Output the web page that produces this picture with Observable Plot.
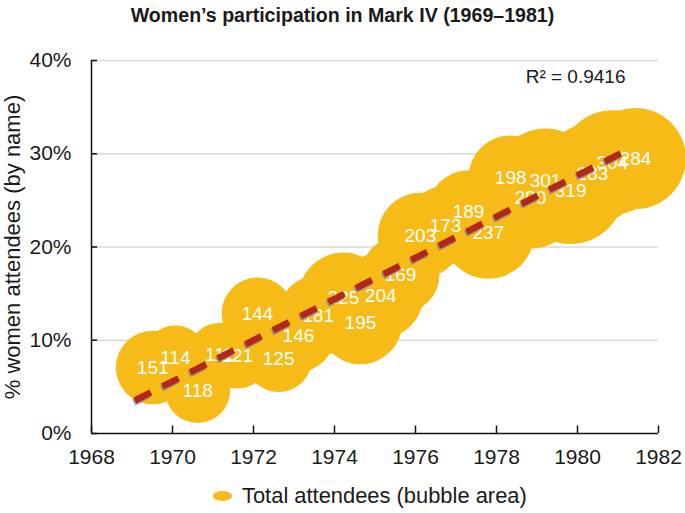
<!DOCTYPE html>
<html><head><meta charset="utf-8">
<script src="https://cdn.jsdelivr.net/npm/d3@7"></script>
<script src="https://cdn.jsdelivr.net/npm/@observablehq/plot@0.6"></script>
<style>
html,body{margin:0;padding:0;background:#fff;}
body{width:685px;height:513px;overflow:hidden;font-family:"Liberation Sans",Arial,sans-serif;color:#1a1a1a;}
#title{height:30px;line-height:31px;text-align:center;font-weight:bold;font-size:19.6px;}
#chart{height:443px;}
#legend{height:40px;position:relative;font-size:21.9px;}
#legend .sw{position:absolute;left:213px;top:18px;width:19px;height:10px;border-radius:50%;background:#F6BB17;}
#legend .lt{position:absolute;left:242px;top:11px;line-height:24px;white-space:nowrap;}
</style></head><body>
<div id="title">Women’s participation in Mark IV (1969–1981)</div>
<div id="chart"></div>
<div id="legend"><span class="sw"></span><span class="lt">Total attendees (bubble area)</span></div>
<script>
// Data
const years = [1969.51, 1970.07, 1970.62, 1971.16, 1971.60, 1972.10, 1972.62, 1973.11, 1973.60, 1974.22, 1974.64, 1975.14, 1975.63, 1976.12, 1976.74, 1977.31, 1977.80, 1978.35, 1978.84, 1979.21, 1979.83, 1980.37, 1980.86, 1981.43];
const pctWomen = [7.08, 8.15, 4.61, 8.47, 8.36, 12.87, 8.04, 10.51, 12.65, 14.58, 11.9, 14.8, 17.05, 21.23, 22.31, 23.81, 21.55, 27.45, 25.31, 27.13, 26.06, 27.88, 29.06, 29.49];
const attendees = [151, 114, 118, 111, 121, 144, 125, 146, 181, 225, 195, 204, 169, 203, 173, 189, 237, 198, 290, 301, 319, 283, 304, 284];
const trendYears = [1969.07, 1981.11];
const trendPct = [3.54, 30.13];
const xTicks = [1968, 1970, 1972, 1974, 1976, 1978, 1980, 1982];
const yTicks = [0, 10, 20, 30, 40];
const gridTicks = [10, 20, 30, 40];
const rSquaredLabel = "R² = 0.9416";
const yTitle = "% women attendees (by name)";

const rows = years.map((x, i) => ({x, y: pctWomen[i], n: attendees[i]}));
const trend = trendYears.map((x, i) => ({x, y: trendPct[i]}));

const bubble = "#F6BB17";
const chart = Plot.plot({
  width: 685,
  height: 443,
  marginLeft: 91,
  marginRight: 27,
  marginTop: 30,
  marginBottom: 40,
  style: {fontFamily: "'Liberation Sans', Arial, sans-serif", fontSize: "21px", color: "#1a1a1a", background: "white", overflow: "visible"},
  x: {domain: [1968, 1982]},
  y: {domain: [0, 40]},
  r: {type: "sqrt", domain: [0, 319], range: [0, 53.5]},
  marks: [
    Plot.gridY(gridTicks, {stroke: "#d9d9d9", strokeOpacity: 1, strokeWidth: 1.5}),
    Plot.ruleX([1968], {stroke: "#111", strokeWidth: 1.5}),
    Plot.ruleY([0], {stroke: "#111", strokeWidth: 1.5}),
    Plot.ruleY(yTicks, {y: d => d, x1: 1968, x2: 1968.15, stroke: "#111", strokeWidth: 1.5}),
    Plot.ruleX(xTicks, {x: d => d, y1: 0, y2: 0.8, stroke: "#111", strokeWidth: 1.5}),
    Plot.axisY(yTicks, {tickSize: 0, tickPadding: 20, fontSize: 21, tickFormat: d => `${d}%`, label: null}),
    Plot.axisX(xTicks, {tickSize: 0, tickPadding: 15.5, fontSize: 21, tickFormat: d => String(d), label: null}),
    Plot.text([yTitle], {frameAnchor: "left", dx: -78.5, rotate: -90, text: d => d, fontSize: 22, textAnchor: "middle", lineAnchor: "middle", fill: "#1a1a1a"}),
    Plot.dot(rows, {x: "x", y: "y", r: "n", fill: bubble, stroke: "none"}),
    Plot.text(rows, {x: "x", y: "y", text: d => String(d.n), fill: "white", fontSize: 19}),
    Plot.line(trend, {x: "x", y: "y", stroke: "#8a8a8a", strokeOpacity: 0.85, strokeWidth: 6.5, strokeDasharray: "18,13", strokeLinecap: "butt", dx: -1, dy: 2}),
    Plot.line(trend, {x: "x", y: "y", stroke: "#B3261B", strokeWidth: 6.5, strokeDasharray: "18,13", strokeLinecap: "butt"}),
    Plot.text([rSquaredLabel], {frameAnchor: "top-right", dx: -33, dy: 16.5, text: d => d, fontSize: 19, textAnchor: "end", lineAnchor: "middle", fill: "#1a1a1a"})
  ]
});
document.getElementById("chart").appendChild(chart);
</script>
</body></html>
